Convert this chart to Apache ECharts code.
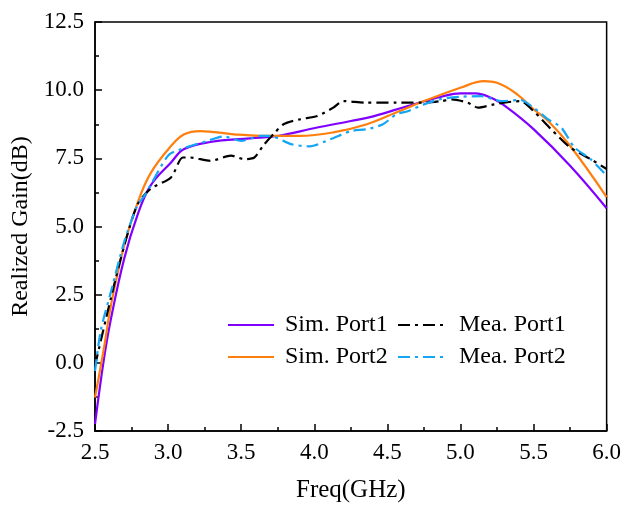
<!DOCTYPE html>
<html>
<head>
<meta charset="utf-8">
<script src="https://cdn.jsdelivr.net/npm/echarts@6/dist/echarts.min.js"></script>
<style>html,body{margin:0;padding:0;background:#fff}#c{width:624px;height:508px}</style>
</head>
<body>
<div id="c"></div>
<script>
const xTicks = ['2.5','3.0','3.5','4.0','4.5','5.0','5.5','6.0'];
const yTicks = ['-2.5','0.0','2.5','5.0','7.5','10.0','12.5'];
const seriesNames = ['Sim. Port1','Sim. Port2','Mea. Port1','Mea. Port2'];

const simP1Freq = [2.5,2.56,2.61,2.70,2.79,2.88,3.02,3.11,3.29,3.56,3.75,4.02,4.25,4.41,4.64,4.87,5.0,5.1,5.21,5.32,5.5,5.75,6.0];
const simP1Gain = [-2.25,0.1,1.64,3.83,5.41,6.5,7.35,7.84,8.1,8.23,8.32,8.63,8.87,9.05,9.42,9.76,9.88,9.88,9.72,9.36,8.57,7.23,5.67];

const simP2Freq = [2.5,2.56,2.61,2.70,2.79,2.88,3.02,3.11,3.22,3.45,3.68,3.9,4.13,4.36,4.56,4.75,4.87,5.0,5.16,5.25,5.39,5.5,5.6,5.75,6.0];
const simP2Gain = [-1.27,0.5,2.13,4.31,5.85,6.95,7.95,8.38,8.5,8.38,8.32,8.32,8.45,8.75,9.18,9.6,9.84,10.09,10.33,10.27,9.84,9.3,8.87,7.96,6.08];

const meaP1Freq = [2.5,2.61,2.70,2.79,2.88,3.02,3.1,3.15,3.29,3.43,3.52,3.59,3.65,3.72,3.79,3.9,4.02,4.13,4.2,4.36,4.56,4.74,4.87,4.94,5.05,5.12,5.23,5.32,5.41,5.5,5.62,5.75,5.89,6.0];
const meaP1Gain = [-0.1,2.4,4.3,5.8,6.38,6.8,7.53,7.53,7.41,7.6,7.47,7.53,7.96,8.38,8.75,8.93,9.05,9.36,9.6,9.54,9.54,9.54,9.6,9.66,9.54,9.36,9.48,9.56,9.6,9.23,8.57,7.9,7.47,7.11];

const meaP2Freq = [2.5,2.54,2.61,2.70,2.79,2.84,3.0,3.09,3.27,3.38,3.5,3.63,3.7,3.84,3.97,4.11,4.25,4.36,4.47,4.56,4.64,4.75,4.87,5.0,5.14,5.28,5.41,5.5,5.6,5.69,5.78,5.89,6.0];
const meaP2Gain = [-0.3,1.2,2.62,4.44,5.77,6.14,7.6,7.84,8.14,8.3,8.14,8.32,8.32,8.02,7.94,8.2,8.5,8.57,8.75,9.11,9.23,9.48,9.68,9.76,9.78,9.6,9.64,9.36,8.93,8.63,7.9,7.47,6.87];

const pairs = (xs, ys) => xs.map((x, i) => [x, ys[i]]);
const FONT = "'Liberation Serif','Times New Roman',serif";

const chart = echarts.init(document.getElementById('c'), null, {renderer: 'canvas'});
const colors = ['#8000ff', '#ff7f0e', '#000000', '#14a5f5'];
const mkSeries = (name, data, color, dashed) => ({
  name, type: 'line', data, smooth: dashed ? 0.25 : 0.4,
  symbol: 'none', showSymbol: false,
  lineStyle: {color, width: 2.2, type: dashed ? [12, 5, 3, 5] : 'solid'},
  itemStyle: {color}, z: dashed ? 3 : 2
});
const legendCommon = {
  orient: 'vertical', top: 308, itemWidth: 46, itemHeight: 10, itemGap: 8,
  itemStyle: {opacity: 0},
  textStyle: {fontFamily: FONT, fontSize: 24, color: '#000'}
};
chart.setOption({
  animation: false,
  backgroundColor: '#fff',
  grid: {left: 95, right: 17, top: 22, bottom: 74, show: true, borderColor: '#000', borderWidth: 1.5},
  legend: [
    Object.assign({}, legendCommon, {data: [seriesNames[0], seriesNames[1]], left: 222,
      textStyle: Object.assign({}, legendCommon.textStyle, {padding: [0,0,0,6]})}),
    Object.assign({}, legendCommon, {data: [seriesNames[2], seriesNames[3]], left: 392,
      textStyle: Object.assign({}, legendCommon.textStyle, {padding: [0,0,0,10]})})
  ],
  xAxis: {
    type: 'value', min: 2.5, max: 6.0, interval: 0.5,
    name: 'Freq(GHz)', nameLocation: 'middle', nameGap: 47,
    nameTextStyle: {fontFamily: FONT, fontSize: 25, color: '#000'},
    axisLine: {show: true, onZero: false, lineStyle: {color: '#000', width: 1.5}},
    axisTick: {show: true, inside: true, length: 7, lineStyle: {color: '#000', width: 1.5}},
    minorTick: {show: true, splitNumber: 2, length: 4, lineStyle: {color: '#000', width: 1.5}},
    splitLine: {show: false},
    axisLabel: {fontFamily: FONT, fontSize: 23, color: '#000', margin: 10,
      formatter: v => xTicks[Math.round((v - 2.5) / 0.5)]}
  },
  yAxis: {
    type: 'value', min: -2.5, max: 12.5, interval: 2.5,
    name: 'Realized Gain(dB)', nameLocation: 'middle', nameGap: 60,
    nameTextStyle: {fontFamily: FONT, fontSize: 24, color: '#000'},
    axisLine: {show: true, onZero: false, lineStyle: {color: '#000', width: 1.5}},
    axisTick: {show: true, inside: true, length: 7, lineStyle: {color: '#000', width: 1.5}},
    minorTick: {show: true, splitNumber: 2, length: 4, lineStyle: {color: '#000', width: 1.5}},
    splitLine: {show: false},
    axisLabel: {fontFamily: FONT, fontSize: 23, color: '#000', margin: 11,
      formatter: v => yTicks[Math.round((v + 2.5) / 2.5)]}
  },
  series: [
    mkSeries(seriesNames[0], pairs(simP1Freq, simP1Gain), colors[0], false),
    mkSeries(seriesNames[1], pairs(simP2Freq, simP2Gain), colors[1], false),
    mkSeries(seriesNames[2], pairs(meaP1Freq, meaP1Gain), colors[2], true),
    mkSeries(seriesNames[3], pairs(meaP2Freq, meaP2Gain), colors[3], true)
  ]
});
</script>
</body>
</html>
